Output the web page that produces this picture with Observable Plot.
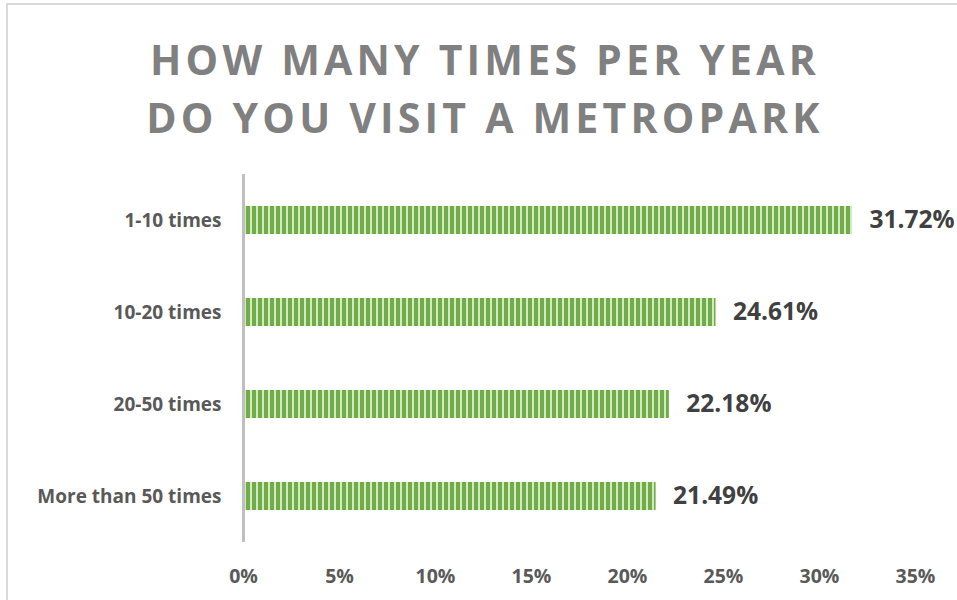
<!DOCTYPE html>
<html>
<head>
<meta charset="utf-8">
<script src="https://cdn.jsdelivr.net/npm/d3@7"></script>
<script src="https://cdn.jsdelivr.net/npm/@observablehq/plot@0.6"></script>
<style>
  html, body { margin: 0; padding: 0; background: #fff; overflow: hidden; width: 957px; height: 600px; }
  #frame { position: absolute; left: 6px; top: 3px; width: 1000px; height: 700px; border-left: 2px solid #d9d9d9; border-top: 2px solid #d9d9d9; }
  #title { position: absolute; left: 0; top: 30px; width: 970px; text-align: center; font-family: "Open Sans", sans-serif; font-weight: 700; font-size: 41px; line-height: 58px; letter-spacing: 4.2px; color: #808080; }
  #chart { position: absolute; left: 0; top: 150px; }
</style>
</head>
<body>
<div id="frame"></div>
<div id="title">HOW MANY TIMES PER YEAR<br>DO YOU VISIT A METROPARK</div>
<div id="chart"></div>
<script>
const categories = ["1-10 times", "10-20 times", "20-50 times", "More than 50 times"];
const values = [31.72, 24.61, 22.18, 21.49];
const xTicks = [0, 5, 10, 15, 20, 25, 30, 35];

const data = categories.map((c, i) => ({category: c, value: values[i]}));

const chart = Plot.plot({
  width: 957,
  height: 450,
  marginTop: 24,
  marginBottom: 58,
  marginLeft: 243,
  marginRight: 42,
  style: {fontFamily: "'Open Sans', sans-serif", fontWeight: "bold", background: "transparent"},
  x: {domain: [0, 35], axis: null},
  y: {domain: categories, paddingInner: 0.7, paddingOuter: 0.35, axis: null},
  marks: [
    Plot.barX(data, {x: "value", y: "category", fill: "url(#stripes)", insetLeft: 2}),
    Plot.ruleX([0], {stroke: "#bfbfbf", strokeWidth: 3}),
    Plot.axisX({ticks: xTicks, tickFormat: d => d + "%", tickSize: 0, tickPadding: 27, fontSize: 19.5, fill: "#595959", fontWeight: "bold", label: null}),
    Plot.axisY({tickSize: 0, tickPadding: 22, fontSize: 19, fill: "#595959", fontWeight: "bold", label: null}),
    Plot.text(data, {x: "value", y: "category", text: d => d.value.toFixed(2) + "%", dx: 17, textAnchor: "start", fontSize: 24.5, fontWeight: "bold", fill: "#404040"})
  ]
});

const ns = "http://www.w3.org/2000/svg";
const defs = document.createElementNS(ns, "defs");
defs.innerHTML = `<pattern id="stripes" patternUnits="userSpaceOnUse" x="0" y="0" width="6" height="10">
  <rect x="0" y="0" width="6" height="10" fill="#70ad47"></rect>
  <rect x="4" y="0" width="2" height="10" fill="#d3e8c6"></rect>
</pattern>`;
chart.insertBefore(defs, chart.firstChild);
document.getElementById("chart").appendChild(chart);
</script>
</body>
</html>
